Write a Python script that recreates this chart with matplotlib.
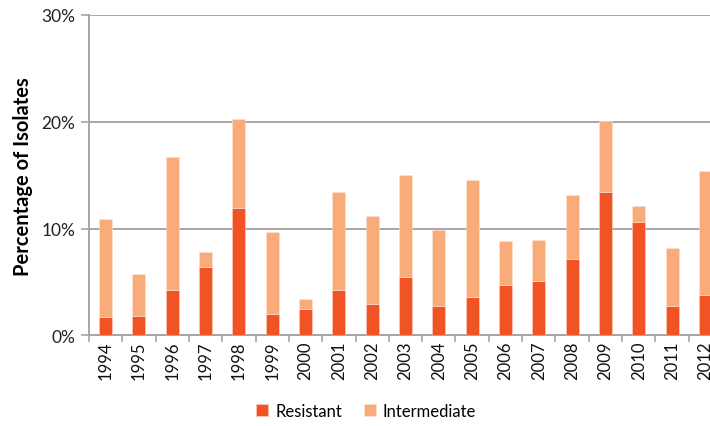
import matplotlib
matplotlib.use("Agg")
import matplotlib.pyplot as plt
import numpy as np

years = ["1994", "1995", "1996", "1997", "1998", "1999", "2000", "2001", "2002", "2003",
         "2004", "2005", "2006", "2007", "2008", "2009", "2010", "2011", "2012"]
resistant = [1.75, 1.85, 4.2, 6.4, 11.9, 2.0, 2.5, 4.2, 2.9, 5.5,
             2.75, 3.6, 4.75, 5.1, 7.1, 13.4, 10.65, 2.75, 3.8]
total = [10.9, 5.7, 16.7, 7.8, 20.3, 9.7, 3.4, 13.4, 11.2, 15.0,
         9.9, 14.5, 8.8, 8.95, 13.1, 20.1, 12.15, 8.2, 15.4]
intermediate = [t - r for t, r in zip(total, resistant)]
yticks = [0, 10, 20, 30]
ytick_labels = ["0%", "10%", "20%", "30%"]

plt.rcParams['font.family'] = ['Lato', 'DejaVu Sans']

fig = plt.figure(figsize=(7.1, 4.27), dpi=100)
ax = fig.add_axes([89 / 710, 90.7 / 427, (722 - 89) / 710, 320.3 / 427])

x = np.arange(len(years))
c_res = '#F25325'
c_int = '#F9AC7A'
ax.bar(x, resistant, width=0.39, color=c_res, edgecolor='#FBD3C0', linewidth=0.4,
       label='Resistant', zorder=3)
ax.bar(x, intermediate, bottom=resistant, width=0.39, color=c_int, edgecolor='#FDE3D2',
       linewidth=0.4, label='Intermediate', zorder=3)

ax.set_xlim(-0.5, len(years) - 0.5)
ax.set_ylim(0, 30)
ax.set_yticks(yticks)
ax.set_yticklabels(ytick_labels, fontsize=12.5, color='#222222')
ax.yaxis.grid(True, color='#A6A6A6', linewidth=1.4, zorder=0)

ax.set_xticks(x)
ax.set_xticklabels(years, rotation=90, fontsize=12, color='#111111')
ax.set_xticks(np.arange(-0.5, len(years), 1), minor=True)
ax.tick_params(axis='x', which='major', length=0, pad=4)
ax.tick_params(axis='x', which='minor', length=5, width=1.2, color='#A6A6A6', direction='out')
ax.tick_params(axis='y', length=6, width=1.2, color='#A6A6A6', direction='out', pad=4)

for s in ['top', 'right']:
    ax.spines[s].set_visible(False)
for s in ['left', 'bottom']:
    ax.spines[s].set_color('#A6A6A6')
    ax.spines[s].set_linewidth(1.4)

ax.set_ylabel('Percentage of Isolates', fontsize=14.5, fontweight='bold', labelpad=6)

fig.legend(loc='center', bbox_to_anchor=(366 / 710, 1 - 412 / 427), ncol=2, frameon=False,
           fontsize=12, handlelength=0.75, handleheight=0.75, handletextpad=0.4,
           columnspacing=1.3)

fig.savefig('out.png', dpi=100)
